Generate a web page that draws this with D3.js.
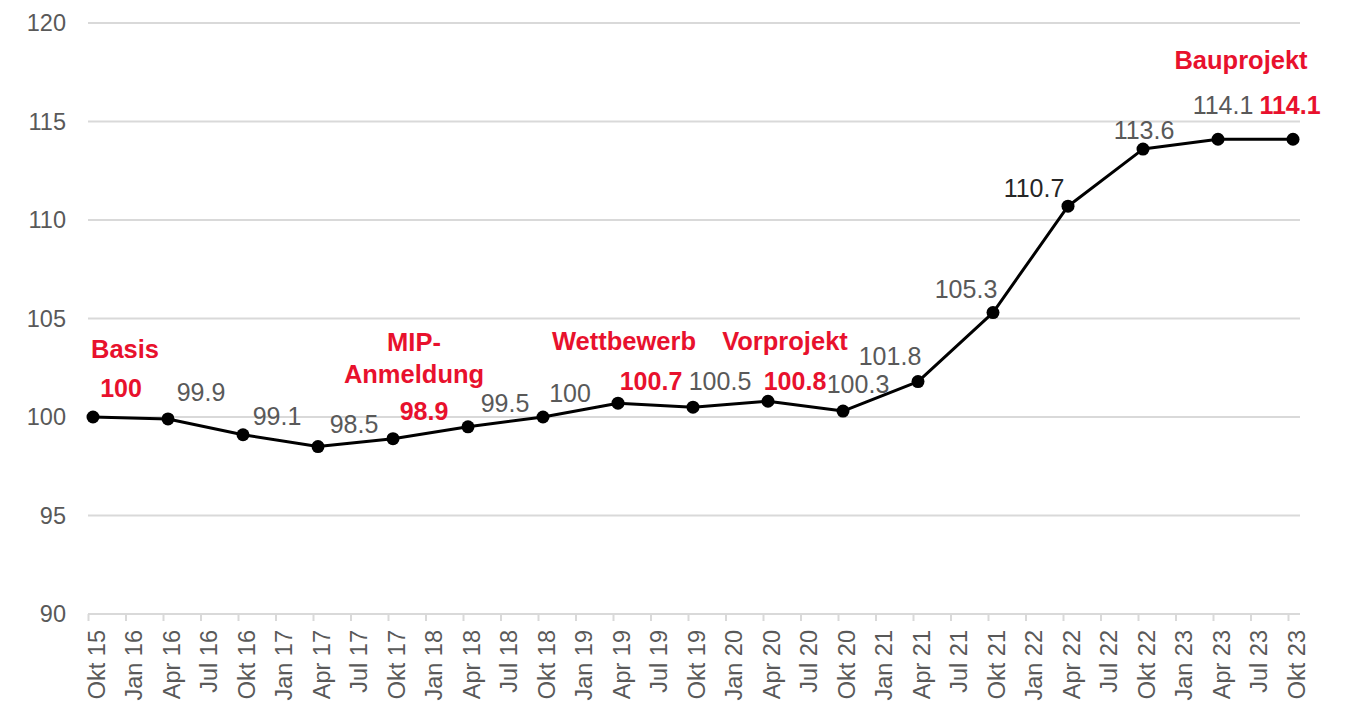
<!DOCTYPE html>
<html>
<head>
<meta charset="utf-8">
<script src="https://cdn.jsdelivr.net/npm/d3@7"></script>
<style>
  body { margin: 0; background: #fff; }
  svg { display: block; font-family: "Liberation Sans", Arial, sans-serif; }
</style>
</head>
<body>
<script>

// Quarterly tick labels on the x axis
var tickLabels = ["Okt 15", "Jan 16", "Apr 16", "Jul 16", "Okt 16", "Jan 17", "Apr 17", "Jul 17",
  "Okt 17", "Jan 18", "Apr 18", "Jul 18", "Okt 18", "Jan 19", "Apr 19", "Jul 19",
  "Okt 19", "Jan 20", "Apr 20", "Jul 20", "Okt 20", "Jan 21", "Apr 21", "Jul 21",
  "Okt 21", "Jan 22", "Apr 22", "Jul 22", "Okt 22", "Jan 23", "Apr 23", "Jul 23", "Okt 23"];

// Data points (every half year)
var categories = ["Okt 15", "Apr 16", "Okt 16", "Apr 17", "Okt 17", "Apr 18", "Okt 18", "Apr 19",
  "Okt 19", "Apr 20", "Okt 20", "Apr 21", "Okt 21", "Apr 22", "Okt 22", "Apr 23", "Okt 23"];
var values = [100, 99.9, 99.1, 98.5, 98.9, 99.5, 100, 100.7, 100.5, 100.8, 100.3, 101.8, 105.3, 110.7, 113.6, 114.1, 114.1];

// Project milestones (point index -> text lines)
var milestoneIndex = [0, 4, 7, 9, 16];
var milestoneText = [["Basis"], ["MIP-", "Anmeldung"], ["Wettbewerb"], ["Vorprojekt"], ["Bauprojekt"]];

var yTicks = [90, 95, 100, 105, 110, 115, 120];

// label placement relative to the point (dx, dy of the baseline)
var labelOffsets = [[28, -20], [33, -18], [34, -10], [36, -14], [31, -19], [37, -15], [27, -15], [33, -13],
  [27, -17], [27, -11], [15, -18], [-28, -17], [-27, -15], [-34, -9], [1, -10], [5, -25], [-3, -25]];
var milestoneOffsets = [[32, -59], [21, -88], [6, -53], [17, -51], [-52, -70]];

var w = 1352;
var h = 703;
var red = "#e8112d";
var grey = "#595959";

var svg = d3.select("body").append("svg")
  .attr("width", w)
  .attr("height", h);

// scales
var yScale = d3.scaleLinear()
  .domain([90, 120])
  .range([614, 23]);

// tick positions (category borders) and point positions
var xTick = d3.scaleLinear()
  .domain([0, 32])
  .range([88, 1288]);

var xScale = d3.scaleLinear()
  .domain([0, 32])
  .range([93, 1293]);

var gridRight = 1300;

// gridlines
svg.append("g")
  .selectAll("line")
  .data(yTicks)
  .enter().append("line")
  .attr("x1", xTick(0))
  .attr("x2", gridRight)
  .attr("y1", d => yScale(d))
  .attr("y2", d => yScale(d))
  .attr("stroke", "#d9d9d9")
  .attr("stroke-width", 2);

// y axis labels
var yAxis = svg.append("g")
  .attr("transform", "translate(" + xTick(0) + ",0)")
  .call(d3.axisLeft(yScale).tickValues(yTicks).tickSize(0).tickPadding(22));
yAxis.select(".domain").remove();
yAxis.selectAll("text")
  .attr("fill", grey)
  .style("font-size", "23.5px");

// x axis
var xAxis = svg.append("g")
  .attr("transform", "translate(0," + yScale(90) + ")")
  .call(d3.axisBottom(xTick)
    .tickValues(d3.range(tickLabels.length))
    .tickFormat(function(i) { return tickLabels[i]; })
    .tickSize(7)
    .tickSizeOuter(0));
xAxis.select(".domain")
  .attr("d", "M" + xTick(0) + ",0H" + gridRight)
  .attr("stroke", "#d9d9d9")
  .attr("stroke-width", 2);
xAxis.selectAll(".tick line")
  .attr("stroke", "#d9d9d9")
  .attr("stroke-width", 2);
xAxis.selectAll("text")
  .attr("fill", grey)
  .style("font-size", "23.5px")
  .attr("text-anchor", "end")
  .attr("dy", null)
  .attr("y", 0)
  .attr("transform", "translate(16,16) rotate(-90)");

// points
var points = categories.map(function(c, i) {
  return {cat: c, value: values[i], q: tickLabels.indexOf(c), i: i};
});

var line = d3.line()
  .x(d => xScale(d.q))
  .y(d => yScale(d.value));

svg.append("path")
  .datum(points)
  .attr("d", line)
  .attr("fill", "none")
  .attr("stroke", "#000")
  .attr("stroke-width", 3)
  .attr("stroke-linejoin", "round");

svg.append("g")
  .selectAll("circle")
  .data(points)
  .enter().append("circle")
  .attr("cx", d => xScale(d.q))
  .attr("cy", d => yScale(d.value))
  .attr("r", 6.5)
  .attr("fill", "#000");

// value labels
svg.append("g")
  .selectAll("text")
  .data(points)
  .enter().append("text")
  .attr("x", d => xScale(d.q) + labelOffsets[d.i][0])
  .attr("y", d => yScale(d.value) + labelOffsets[d.i][1])
  .attr("text-anchor", "middle")
  .style("font-size", "25px")
  .style("font-weight", d => milestoneIndex.indexOf(d.i) >= 0 ? "bold" : "normal")
  .attr("fill", function(d) {
    if (milestoneIndex.indexOf(d.i) >= 0) return red;
    if (d.value == 110.7) return "#262626";
    return grey;
  })
  .text(d => String(d.value));

// milestone labels
milestoneIndex.forEach(function(idx, m) {
  var p = points[idx];
  var t = svg.append("text")
    .attr("x", xScale(p.q) + milestoneOffsets[m][0])
    .attr("y", yScale(p.value) + milestoneOffsets[m][1])
    .attr("text-anchor", "middle")
    .attr("fill", red)
    .style("font-size", "25.5px")
    .style("font-weight", "bold");
  milestoneText[m].forEach(function(s, k) {
    t.append("tspan")
      .attr("x", xScale(p.q) + milestoneOffsets[m][0])
      .attr("dy", k == 0 ? 0 : 32)
      .text(s);
  });
});

</script>
</body>
</html>
